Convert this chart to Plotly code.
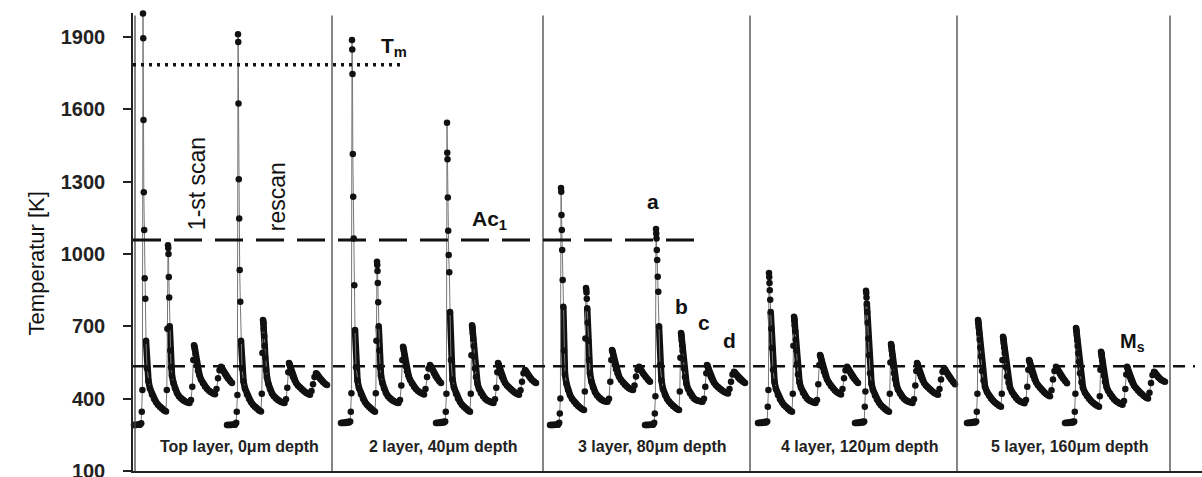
import plotly.graph_objects as go

# ---------------- data ----------------
# relative time of each sample (time units), measured from the first peak of a scan
t_rel = [-11, -9, -7, -5, -3, -1.8,
         -1.2, -0.6,
         0,
         0.25, 0.5, 0.8, 1.2, 1.7, 2.3, 3.0,
         4, 5.5, 7, 9, 11, 13, 15, 17, 19, 21, 23,
         23.8, 24.4,
         25,
         25.25, 25.5, 25.8, 26.2, 26.7, 27.3, 28,
         29, 30.5, 32, 34, 36, 38, 40, 42, 44, 46.5,
         48, 49.3, 50.3,
         51,
         51.4, 51.9, 52.5, 53.2, 54, 55,
         56.5, 58, 60, 62, 64, 66, 68, 70, 72,
         73.5, 75, 76.5,
         78,
         78.7, 79.5, 80.5, 82, 83.5, 85, 87, 89]

# time of the first (laser) peak of every scan
scan_peak_time = [10, 105, 219, 314, 428, 523, 636, 733, 845, 943]

T_L1_scan = [291, 291, 291, 292, 293, 298, 346, 436, 1998,
             1895, 1556, 1256, 1100, 900, 815, 640,
             525, 472, 442, 417, 400, 386, 375, 366, 358, 351, 347,
             436, 690, 1037,
             1025, 1000, 905, 820, 700, 600, 530,
             495, 465, 443, 424, 410, 401, 394, 389, 385, 382,
             395, 450, 560, 622,
             618, 605, 585, 560, 537, 516,
             497, 480, 464, 451, 441, 433, 427, 422, 418,
             440, 485, 518, 532,
             528, 522, 513, 502, 492, 484, 474, 465]
T_L1_rescan = [291, 291, 291, 292, 293, 300, 346, 415, 1912,
               1880, 1625, 1310, 1148, 934, 802, 640,
               525, 472, 442, 417, 400, 386, 375, 366, 358, 351, 347,
               420, 590, 726,
               722, 712, 690, 660, 620, 570, 520,
               488, 460, 440, 422, 410, 401, 394, 389, 385, 382,
               398, 445, 510, 548,
               545, 538, 528, 515, 502, 490,
               478, 466, 455, 446, 438, 431, 425, 420, 416,
               432, 460, 490, 506,
               503, 498, 491, 483, 476, 469, 462, 457]
T_L2_scan = [299, 299, 299, 300, 301, 305, 346, 423, 1888,
             1849, 1747, 1415, 1238, 1065, 871, 685,
             530, 475, 444, 418, 400, 386, 375, 366, 358, 351, 346,
             423, 640, 968,
             955, 930, 880, 800, 700, 600, 530,
             495, 465, 443, 424, 410, 401, 394, 389, 385, 382,
             395, 455, 560, 615,
             611, 598, 580, 556, 534, 514,
             496, 479, 463, 450, 440, 432, 426, 421, 417,
             440, 490, 525, 540,
             535, 528, 518, 505, 494, 485, 474, 465]
T_L2_rescan = [299, 299, 299, 300, 301, 305, 346, 420, 1545,
               1420, 1393, 1235, 1097, 996, 925, 760,
               560, 480, 446, 420, 401, 387, 375, 366, 358, 351, 346,
               420, 580, 705,
               700, 690, 672, 648, 618, 575, 525,
               490, 462, 441, 423, 410, 401, 394, 389, 385, 382,
               398, 445, 510, 548,
               545, 538, 528, 515, 502, 490,
               478, 466, 455, 446, 438, 431, 425, 420, 416,
               435, 470, 505, 519,
               516, 510, 502, 493, 485, 478, 471, 465]
T_L3_scan = [291, 291, 291, 292, 293, 300, 339, 401, 1274,
             1258, 1162, 1100, 1017, 892, 781, 600,
             500, 462, 437, 415, 400, 388, 378, 370, 363, 357, 353,
             430, 650, 859,
             852, 840, 815, 775, 715, 640, 560,
             505, 470, 447, 428, 414, 404, 397, 392, 389, 387,
             400, 470, 560, 602,
             599, 590, 575, 558, 540, 522,
             506, 492, 478, 467, 457, 449, 443, 439, 436,
             455, 492, 520, 532,
             529, 524, 516, 506, 497, 489, 479, 470]
T_L3_rescan = [291, 291, 291, 292, 293, 300, 339, 410, 1104,
               1085, 1065, 1017, 975, 906, 844, 700,
               540, 475, 440, 415, 400, 388, 378, 370, 363, 357, 353,
               430, 570, 672,
               668, 658, 642, 622, 598, 565, 525,
               490, 462, 441, 423, 410, 401, 395, 391, 389, 387,
               400, 450, 505, 540,
               537, 531, 522, 511, 500, 489,
               478, 467, 456, 447, 440, 434, 429, 425, 422,
               440, 470, 500, 512,
               509, 504, 497, 489, 482, 476, 470, 465]
T_L4_scan = [299, 299, 299, 300, 301, 305, 367, 436, 921,
             905, 880, 850, 810, 760, 690, 610,
             520, 470, 440, 415, 398, 385, 374, 365, 357, 350, 346,
             420, 620, 740,
             735, 724, 705, 680, 645, 600, 545,
             500, 468, 445, 425, 411, 401, 394, 389, 385, 382,
             395, 460, 540, 581,
             578, 570, 558, 544, 528, 512,
             496, 481, 466, 453, 443, 434, 427, 421, 417,
             440, 485, 518, 532,
             528, 522, 513, 502, 492, 484, 474, 465]
T_L4_rescan = [299, 299, 299, 300, 301, 305, 367, 430, 848,
               838, 820, 795, 760, 715, 650, 580,
               505, 463, 436, 413, 397, 384, 373, 364, 356, 350, 346,
               420, 550, 627,
               623, 615, 600, 582, 560, 535, 505,
               482, 458, 438, 421, 409, 400, 393, 388, 385, 382,
               398, 455, 515, 548,
               545, 538, 528, 515, 502, 490,
               478, 466, 455, 446, 438, 431, 425, 420, 416,
               440, 480, 512, 527,
               523, 517, 509, 499, 490, 481, 470, 460]
T_L5_scan = [299, 299, 299, 300, 301, 305, 346, 420, 726,
             722, 712, 695, 672, 645, 612, 575,
             515, 475, 450, 428, 413, 401, 392, 384, 377, 371, 367,
             420, 560, 657,
             653, 645, 630, 612, 590, 562, 530,
             492, 466, 446, 428, 414, 403, 395, 389, 385, 381,
             395, 450, 520, 560,
             557, 550, 538, 525, 510, 496,
             482, 469, 456, 445, 436, 427, 420, 414, 410,
             435, 480, 515, 532,
             528, 522, 513, 502, 492, 484, 474, 464]
T_L5_rescan = [299, 299, 299, 300, 301, 305, 346, 420, 693,
               689, 680, 664, 643, 618, 588, 553,
               505, 468, 445, 425, 411, 400, 391, 383, 376, 371, 367,
               410, 520, 595,
               592, 585, 573, 558, 540, 518, 495,
               470, 450, 434, 419, 408, 398, 390, 384, 379, 375,
               390, 440, 500, 532,
               529, 523, 513, 501, 489, 477,
               466, 455, 444, 434, 425, 418, 411, 405, 401,
               425, 465, 498, 512,
               509, 504, 498, 490, 484, 479, 474, 470]

scans = [T_L1_scan, T_L1_rescan, T_L2_scan, T_L2_rescan, T_L3_scan,
         T_L3_rescan, T_L4_scan, T_L4_rescan, T_L5_scan, T_L5_rescan]

panel_bounds = [2, 199, 410, 617, 824, 1037]
panel_labels = ["Top layer, 0\u03bcm depth", "2 layer, 40\u03bcm depth",
                "3 layer, 80\u03bcm depth", "4 layer, 120\u03bcm depth",
                "5 layer, 160\u03bcm depth"]

T_melt = 1785
T_Ac1 = 1058
T_Ms = 535
y_ticks = [100, 400, 700, 1000, 1300, 1600, 1900]

FONT = "Liberation Sans, Arial, sans-serif"

# ---------------- figure ----------------
fig = go.Figure()
for pk, T in zip(scan_peak_time, scans):
    xs = [pk + t for t in t_rel]
    # dense (overlapping-dot) part of the curves
    thick = []
    for i, v in enumerate(T):
        if v < 800 and (i == 0 or v <= T[i - 1] + 12):
            thick.append(v)
        else:
            thick.append(None)
    fig.add_trace(go.Scatter(x=xs, y=thick, mode="lines",
                             line=dict(color="#111", width=6.5),
                             connectgaps=False, hoverinfo="skip",
                             cliponaxis=False))
    fig.add_trace(go.Scatter(x=xs, y=T, mode="lines+markers",
                             line=dict(color="#777", width=1),
                             marker=dict(color="#111", size=6.5),
                             cliponaxis=False))

shapes = []
for b in panel_bounds:
    shapes.append(dict(type="line", xref="x", yref="y", x0=b, x1=b,
                       y0=100, y1=1990, line=dict(color="#444", width=1.3)))
shapes.append(dict(type="line", xref="x", yref="y", x0=0, x1=267,
                   y0=T_melt, y1=T_melt,
                   line=dict(color="#111", width=3.5, dash="3px,5px")))
shapes.append(dict(type="line", xref="x", yref="y", x0=0, x1=562,
                   y0=T_Ac1, y1=T_Ac1,
                   line=dict(color="#111", width=3, dash="28px,13px")))
shapes.append(dict(type="line", xref="x", yref="y", x0=0, x1=1062,
                   y0=T_Ms, y1=T_Ms,
                   line=dict(color="#111", width=2.5, dash="12px,8px")))

ann = []
bold = dict(family=FONT, size=21, color="#111")
ann.append(dict(x=246, y=1860, xref="x", yref="y", text="<b>T<sub>m</sub></b>",
                showarrow=False, xanchor="left", yanchor="middle", font=bold))
ann.append(dict(x=337, y=1141, xref="x", yref="y", text="<b>Ac<sub>1</sub></b>",
                showarrow=False, xanchor="left", yanchor="middle", font=bold))
for txt, xx, yy in [("a", 520, 1216), ("b", 548, 784), ("c", 571, 718), ("d", 596, 643)]:
    ann.append(dict(x=xx, y=yy, xref="x", yref="y", text="<b>%s</b>" % txt,
                    showarrow=False, font=bold))
ann.append(dict(x=985, y=635, xref="x", yref="y", text="<b>M<sub>s</sub></b>",
                showarrow=False, xanchor="left", yanchor="middle",
                font=dict(family=FONT, size=20, color="#111")))
ann.append(dict(x=64, y=1290, xref="x", yref="y", text="1-st scan", textangle=-90,
                showarrow=False, font=dict(family=FONT, size=23, color="#111")))
ann.append(dict(x=144, y=1236, xref="x", yref="y", text="rescan", textangle=-90,
                showarrow=False, font=dict(family=FONT, size=23, color="#111")))
for lab, lo, hi in zip(panel_labels, panel_bounds[:-1], panel_bounds[1:]):
    ann.append(dict(x=(lo + hi) / 2 + 6, y=200, xref="x", yref="y", text="<b>%s</b>" % lab,
                    showarrow=False, font=dict(family=FONT, size=16, color="#222")))
ann.append(dict(x=-0.104, y=0.454, xref="paper", yref="paper", text="Temperatur [K]",
                textangle=-90, showarrow=False,
                font=dict(family=FONT, size=22, color="#111")))

fig.update_layout(
    width=1202, height=477,
    margin=dict(l=133, r=0, t=13, b=6, autoexpand=False),
    plot_bgcolor="white", paper_bgcolor="white",
    showlegend=False, shapes=shapes, annotations=ann,
    font=dict(family=FONT),
    xaxis=dict(range=[0, 1069], showline=True, linecolor="#222", linewidth=2,
               showticklabels=False, ticks="", showgrid=False, zeroline=False,
               automargin=False),
    yaxis=dict(range=[100, 2000], tickvals=y_ticks,
               ticktext=["<b>%d</b>" % v for v in y_ticks],
               ticks="outside", ticklen=8, automargin=False,
               tickwidth=1.5, tickcolor="#222", showline=True, linecolor="#222",
               linewidth=1.5, showgrid=False, zeroline=False, ticklabelstandoff=14,
               ticklabeloverflow="allow",
               tickfont=dict(family=FONT, size=20, color="#222")),
)

fig.write_html("out.html")
